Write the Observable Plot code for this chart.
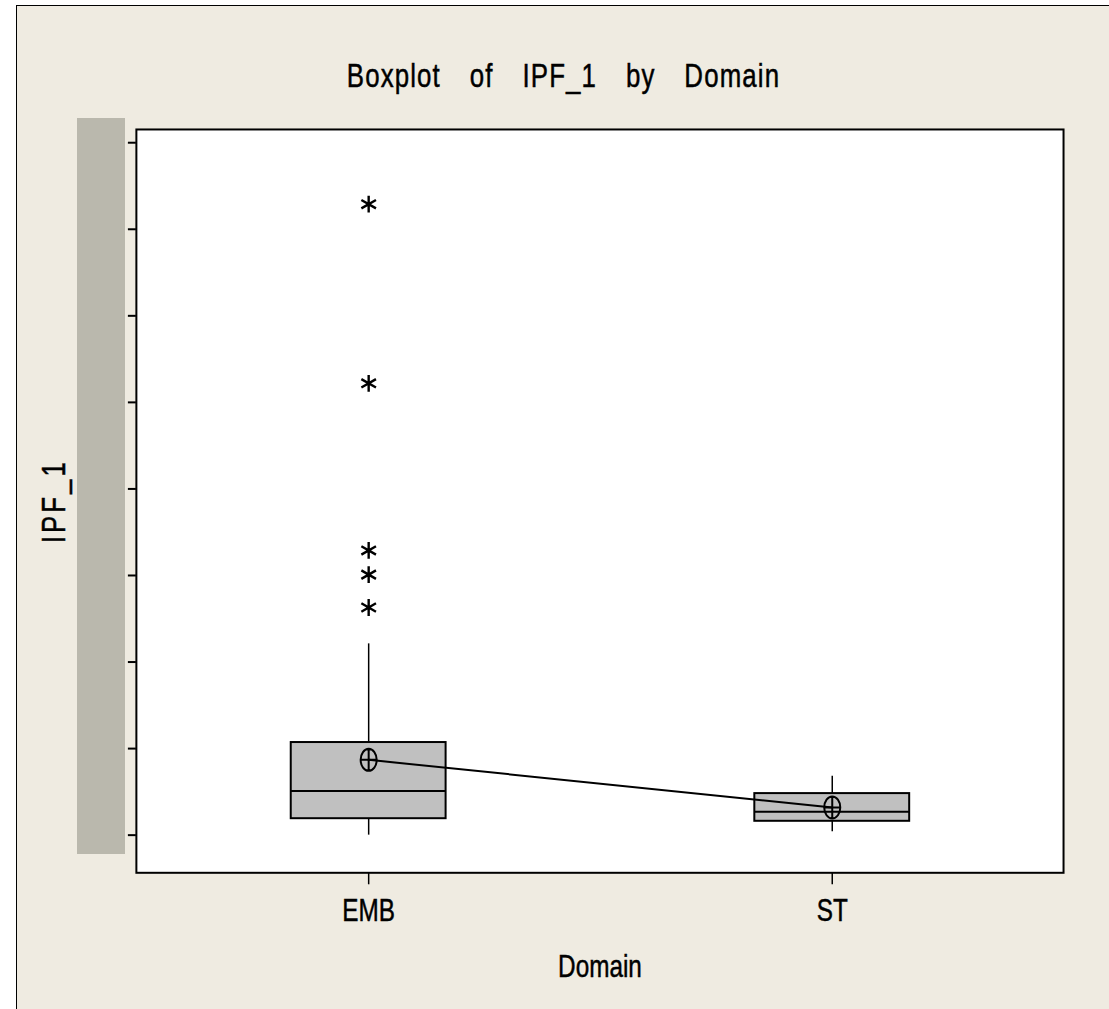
<!DOCTYPE html>
<html>
<head>
<meta charset="utf-8">
<script src="https://cdn.jsdelivr.net/npm/d3@7"></script>
<script src="https://cdn.jsdelivr.net/npm/@observablehq/plot@0.6"></script>
<style>
  html, body { margin: 0; padding: 0; background: #ffffff; }
  #page {
    position: absolute; left: 16px; top: 5px; width: 1093px; height: 1004px;
    background: #EFEBE1; border-top: 1.5px solid #000; border-left: 1.5px solid #000;
    box-sizing: border-box; overflow: hidden;
  }
  #title {
    position: absolute; left: 0; top: 52px; width: 1093px; text-align: center;
    font-family: "Liberation Sans", Arial, sans-serif;
    font-size: 34px; line-height: 1; color: #000;
    letter-spacing: 1.5px; word-spacing: 27px;
    -webkit-text-stroke: 0.5px #000;
    transform: scaleX(0.76); transform-origin: 50% 50%;
  }
  #chart { position: absolute; left: -16px; top: 95px; }
  #shade { position: absolute; left: 60px; top: 112px; width: 48px; height: 736px; background: #BAB8AD; }
</style>
</head>
<body>
<div id="page">
  <div id="title">Boxplot of IPF_1 by Domain</div>
  <div id="chart"></div>
  <div id="shade"></div>
</div>
<script>
// Summary statistics of IPF_1 for each domain
const domains = ["EMB", "ST"];
const whiskerLow = [0.00, 0.04];
const q1 = [0.19, 0.16];
const median = [0.51, 0.27];
const q3 = [1.07, 0.48];
const whiskerHigh = [2.21, 0.68];
const means = [0.87, 0.32];

// Points beyond the whiskers
const outlierDomain = ["EMB", "EMB", "EMB", "EMB", "EMB"];
const outlierValue = [7.29, 5.22, 3.29, 3.01, 2.63];

// Y axis tick positions
const yTicks = [0, 1, 2, 3, 4, 5, 6, 7, 8];

const boxes = domains.map((d, i) => ({
  domain: d, lo: whiskerLow[i], q1: q1[i], median: median[i],
  q3: q3[i], hi: whiskerHigh[i], mean: means[i]
}));
const outliers = outlierValue.map((v, i) => ({domain: outlierDomain[i], value: v}));

// Mean marker: an upright ellipse with a crosshair
const meanSymbol = {
  draw(context, size) {
    const r = Math.sqrt(size / Math.PI);
    const rx = r * 0.73, ry = r, k = 0.5523;
    context.moveTo(rx, 0);
    context.bezierCurveTo(rx, ry * k, rx * k, ry, 0, ry);
    context.bezierCurveTo(-rx * k, ry, -rx, ry * k, -rx, 0);
    context.bezierCurveTo(-rx, -ry * k, -rx * k, -ry, 0, -ry);
    context.bezierCurveTo(rx * k, -ry, rx, -ry * k, rx, 0);
    context.closePath();
    context.moveTo(-rx, 0); context.lineTo(rx, 0);
    context.moveTo(0, -ry); context.lineTo(0, ry);
  }
};

const chart = Plot.plot({
  width: 1109,
  height: 909,
  marginLeft: 135,
  marginRight: 46,
  marginTop: 28,
  marginBottom: 137,
  style: {
    fontFamily: '"Liberation Sans", Arial, sans-serif',
    background: "transparent",
    color: "#000",
    overflow: "visible"
  },
  x: {type: "band", domain: domains, paddingInner: 0.666, paddingOuter: 0.333, align: 0.5},
  y: {domain: [-0.435, 8.153]},
  marks: [
    Plot.frame({fill: "#ffffff", stroke: null}),
    Plot.ruleX(boxes, {x: "domain", y1: "lo", y2: "hi", stroke: "#000", strokeWidth: 1.5}),
    Plot.barY(boxes, {x: "domain", y1: "q1", y2: "q3", fill: "#C0C0C0", stroke: "#000", strokeWidth: 2}),
    Plot.tickY(boxes, {x: "domain", y: "median", stroke: "#000", strokeWidth: 2}),
    Plot.line(boxes, {x: "domain", y: "mean", stroke: "#000", strokeWidth: 2}),
    Plot.dot(boxes, {x: "domain", y: "mean", r: 11, symbol: meanSymbol, fill: "none", stroke: "#000", strokeWidth: 2}),
    Plot.dot(outliers, {x: "domain", y: "value", symbol: "asterisk", r: 8, stroke: "#000", strokeWidth: 2.4}),
    Plot.axisX({
      tickSize: 12, tickPadding: 14, fontSize: 32, strokeWidth: 1.5,
      label: "Domain", labelAnchor: "center", labelOffset: 104, labelArrow: "none"
    }),
    Plot.axisY({
      ticks: yTicks, tickSize: 8, tickFormat: () => "", strokeWidth: 2,
      label: "IPF_1", labelAnchor: "center", labelOffset: 96, fontSize: 34, labelArrow: "none"
    }),
    Plot.frame({stroke: "#000", strokeWidth: 2})
  ]
});

// Condense every text horizontally about its own anchor and darken the strokes
chart.querySelectorAll("text").forEach((t) => {
  const x = parseFloat(t.getAttribute("x")) || 0;
  const tr = t.getAttribute("transform") || "";
  t.setAttribute("transform", `${tr} translate(${x},0) scale(0.76,1) translate(${-x},0)`);
  t.setAttribute("stroke", "#000");
  t.setAttribute("stroke-width", "0.5");
});
// Wider letter spacing on the vertical axis title
chart.querySelectorAll('[aria-label="y-axis label"] text').forEach((t) => {
  t.style.letterSpacing = "4px";
});

document.getElementById("chart").appendChild(chart);
</script>
</body>
</html>
